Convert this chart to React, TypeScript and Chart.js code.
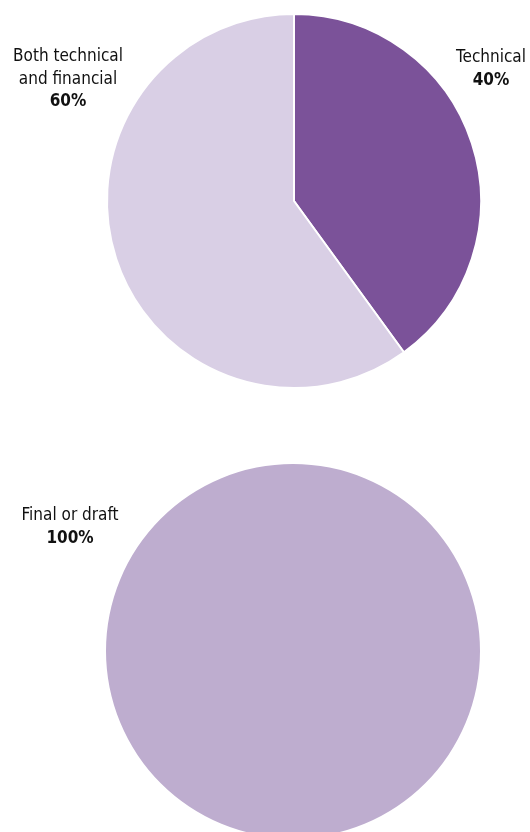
import React, { useEffect, useRef } from "react";
import { Chart, registerables } from "chart.js";

Chart.register(...registerables);

const pie1Labels = ["Technical", "Both technical and financial"];
const pie1Values = [40, 60];
const pie1Colors = ["#7B5299", "#D9CFE5"];
const pie1Text = [
  { lines: ["Technical"], pct: "40%", x: 491, y: 62 },
  { lines: ["Both technical", "and financial"], pct: "60%", x: 68, y: 61 },
];

const pie2Labels = ["Final or draft"];
const pie2Values = [100];
const pie2Colors = ["#BEADCF"];
const pie2Text = [{ lines: ["Final or draft"], pct: "100%", x: 70, y: 70 }];

const FONT = '"DejaVu Sans Condensed", "Liberation Sans", sans-serif';

const labelPlugin = {
  id: "pieText",
  afterDraw(chart: any, _args: any, opts: any) {
    const ctx = chart.ctx;
    const items = opts.items || [];
    ctx.save();
    ctx.fillStyle = "#111";
    ctx.textAlign = "center";
    ctx.textBaseline = "alphabetic";
    for (const it of items) {
      let y = it.y;
      ctx.font = `17px ${FONT}`;
      for (const line of it.lines) {
        ctx.fillText(line, it.x, y);
        y += 22.5;
      }
      ctx.font = `bold 17px ${FONT}`;
      ctx.fillText(it.pct, it.x, y);
    }
    ctx.restore();
  },
};

function PieChart(props: {
  labels: string[];
  values: number[];
  colors: string[];
  text: any[];
  border: number;
  padding: any;
  top: number;
}) {
  const ref = useRef<HTMLCanvasElement | null>(null);
  useEffect(() => {
    if (!ref.current) return;
    const chart = new Chart(ref.current, {
      type: "pie",
      data: {
        labels: props.labels,
        datasets: [
          {
            data: props.values,
            backgroundColor: props.colors,
            borderColor: "#ffffff",
            borderWidth: props.border,
          },
        ],
      },
      options: {
        responsive: false,
        animation: false,
        layout: { padding: props.padding },
        plugins: {
          legend: { display: false },
          tooltip: { enabled: false },
          pieText: { items: props.text },
        } as any,
      },
      plugins: [labelPlugin],
    });
    return () => chart.destroy();
  }, []);
  return (
    <canvas
      ref={ref}
      width={530}
      height={402}
      style={{ position: "absolute", left: 0, top: props.top, width: 530, height: 402 }}
    />
  );
}

export default function App() {
  return (
    <div
      style={{
        position: "fixed",
        left: 0,
        top: 0,
        width: 530,
        height: 832,
        overflow: "hidden",
        background: "#fff",
      }}
    >
      <PieChart
        labels={pie1Labels}
        values={pie1Values}
        colors={pie1Colors}
        text={pie1Text}
        border={2}
        padding={{ left: 106, right: 48, top: 13, bottom: 13 }}
        top={0}
      />
      <PieChart
        labels={pie2Labels}
        values={pie2Values}
        colors={pie2Colors}
        text={pie2Text}
        border={0}
        padding={{ left: 106, right: 50, top: 14, bottom: 14 }}
        top={450}
      />
    </div>
  );
}
